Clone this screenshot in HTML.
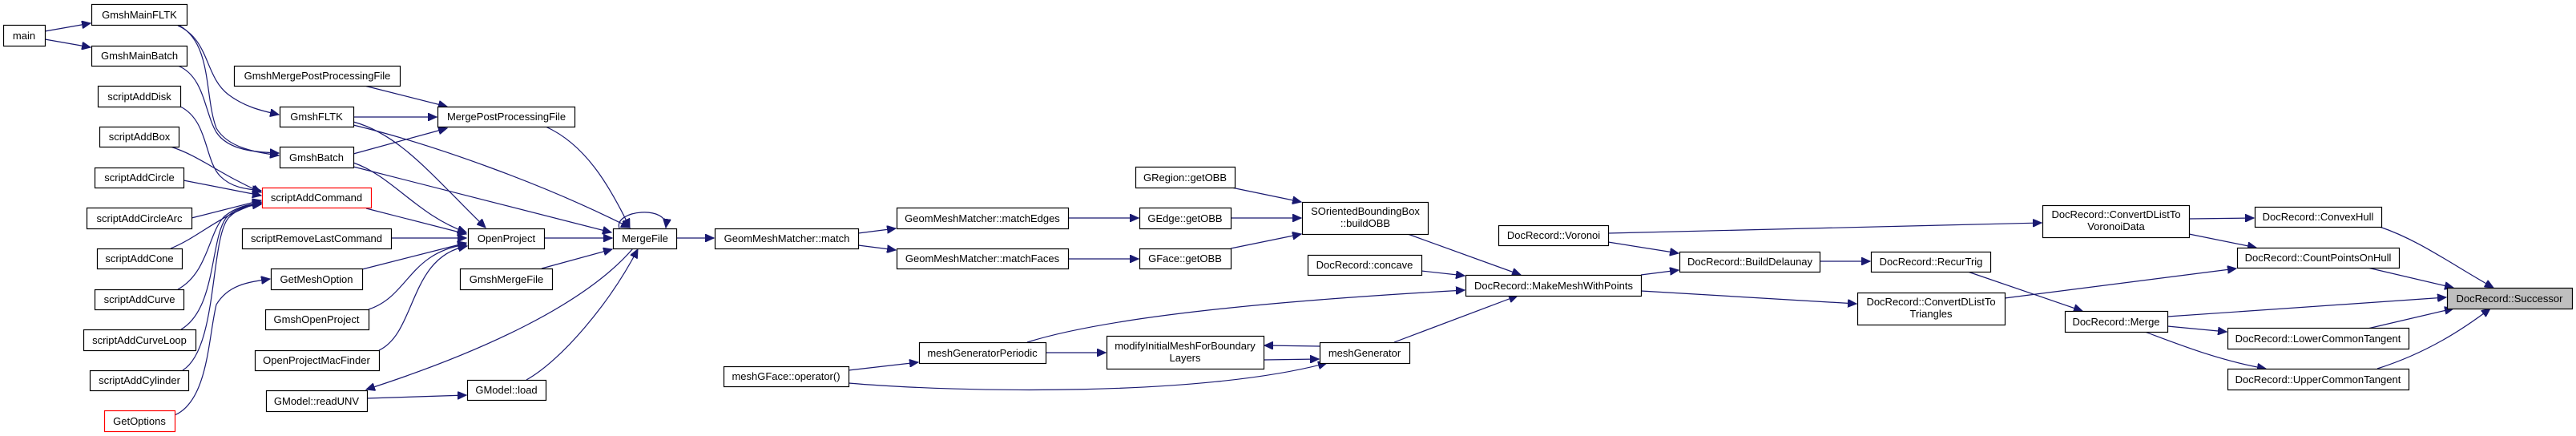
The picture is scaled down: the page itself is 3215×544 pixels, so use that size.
<!DOCTYPE html>
<html><head><meta charset="utf-8"><style>
html,body{margin:0;padding:0;background:#fff;width:3215px;height:544px;overflow:hidden}
svg{display:block}
text{font-family:"Liberation Sans",Arial,sans-serif;font-size:13px;fill:#000}
.n{fill:#fff;stroke:#000;stroke-width:1.2}
.r{fill:#fff;stroke:#ff0000;stroke-width:1.2}
.e{fill:none;stroke:#191970;stroke-width:1.2;marker-end:url(#a)}
</style></head><body>
<svg width="3215" height="544" viewBox="0 0 3215 544" xmlns="http://www.w3.org/2000/svg">
<defs><marker id="a" markerUnits="userSpaceOnUse" markerWidth="12" markerHeight="10" refX="11" refY="5" orient="auto"><path d="M0,0 L11,5 L0,10 z" fill="#191970" stroke="#191970"/></marker></defs>

<!-- edges -->
<path class="e" d="M56,39 L113,29"/>
<path class="e" d="M56,49 L113,59"/>
<path class="e" d="M222,32 C262,50 255,95 285,118 C305,133 325,138 348,143"/>
<path class="e" d="M224,32 C265,55 255,120 270,160 C285,185 320,190 348,194"/>
<path class="e" d="M222,82 C255,95 255,140 270,165 C285,188 320,190 348,191"/>
<path class="e" d="M225,133 C260,150 255,200 275,220 C290,235 310,236 326,238"/>
<path class="e" d="M213,183 C250,195 270,215 326,240"/>
<path class="e" d="M229,225 L326,244"/>
<path class="e" d="M239,272 L326,250"/>
<path class="e" d="M213,310 C250,295 270,270 326,252"/>
<path class="e" d="M222,361 C260,340 260,290 280,270 C295,258 310,255 326,253"/>
<path class="e" d="M226,411 C270,385 262,300 282,272 C295,258 315,255 326,254"/>
<path class="e" d="M228,462 C272,435 262,300 285,272 C298,258 315,256 326,255"/>
<path class="e" d="M218,518 C260,500 260,420 270,380 C285,355 310,352 337,348"/>
<path class="e" d="M455,107 L558,133"/>
<path class="e" d="M441,146 L545,146"/>
<path class="e" d="M441,192 L558,160"/>
<path class="e" d="M441,152 C500,168 540,220 606,284"/>
<path class="e" d="M441,203 C490,220 520,268 582,290"/>
<path class="e" d="M441,156 C540,180 680,230 786,284"/>
<path class="e" d="M441,208 L763,290"/>
<path class="e" d="M457,260 L582,292"/>
<path class="e" d="M488,297 L582,297"/>
<path class="e" d="M452,336 L582,303"/>
<path class="e" d="M460,386 C510,370 510,315 582,305"/>
<path class="e" d="M473,437 C520,415 510,320 583,307"/>
<path class="e" d="M790,310 C730,380 600,440 457,486"/>
<path class="e" d="M458,497 L582,493"/>
<path class="e" d="M657,474 C700,450 760,380 796,311"/>
<path class="e" d="M681,158 C730,180 760,230 786,284"/>
<path class="e" d="M679,297 L764,297"/>
<path class="e" d="M676,335 L764,311"/>
<path class="e" d="M773,285 C765,262 835,255 831,284"/>
<path class="e" d="M844,297 L891,297"/>
<path class="e" d="M1071,291 L1118,285"/>
<path class="e" d="M1071,306 L1118,312"/>
<path class="e" d="M1333,272 L1421,272"/>
<path class="e" d="M1333,323 L1421,323"/>
<path class="e" d="M1537,234 L1624,252"/>
<path class="e" d="M1536,272 L1624,272"/>
<path class="e" d="M1536,310 L1624,292"/>
<path class="e" d="M1757,292 L1898,343"/>
<path class="e" d="M1774,338 L1828,344"/>
<path class="e" d="M1282,427 C1400,390 1650,372 1828,362"/>
<path class="e" d="M1740,427 L1894,369"/>
<path class="e" d="M1059,462 L1146,452"/>
<path class="e" d="M1059,478 C1200,490 1500,495 1656,453"/>
<path class="e" d="M1305,440 L1380,440"/>
<path class="e" d="M1647,432 L1578,431"/>
<path class="e" d="M1577,449 L1646,448"/>
<path class="e" d="M2007,302 L2095,316"/>
<path class="e" d="M2007,291 L2548,278"/>
<path class="e" d="M2048,343 L2095,337"/>
<path class="e" d="M2048,363 L2317,379"/>
<path class="e" d="M2271,326 L2334,326"/>
<path class="e" d="M2456,339 L2599,388"/>
<path class="e" d="M2502,372 L2791,335"/>
<path class="e" d="M2732,273 L2813,272"/>
<path class="e" d="M2732,292 L2816,309"/>
<path class="e" d="M2970,283 C3020,300 3060,330 3112,359"/>
<path class="e" d="M2955,334 L3062,359"/>
<path class="e" d="M2705,395 L3053,371"/>
<path class="e" d="M2705,407 L2779,414"/>
<path class="e" d="M2677,414 C2720,430 2770,450 2828,460"/>
<path class="e" d="M2955,410 L3062,385"/>
<path class="e" d="M2967,460 C3030,440 3075,410 3108,385"/>

<!-- nodes -->
<g>
<rect class="n" x="4.5" y="31.5" width="52" height="26"/><text x="30" y="49" text-anchor="middle">main</text>
<rect class="n" x="114.5" y="5.5" width="119" height="26"/><text x="174" y="23" text-anchor="middle">GmshMainFLTK</text>
<rect class="n" x="114.5" y="57.5" width="119" height="25"/><text x="174" y="74" text-anchor="middle">GmshMainBatch</text>
<rect class="n" x="122.5" y="107.5" width="103" height="26"/><text x="174" y="125" text-anchor="middle">scriptAddDisk</text>
<rect class="n" x="124.5" y="158.5" width="99" height="25"/><text x="174" y="175" text-anchor="middle">scriptAddBox</text>
<rect class="n" x="118.5" y="209.5" width="111" height="25"/><text x="174" y="226" text-anchor="middle">scriptAddCircle</text>
<rect class="n" x="108.5" y="259.5" width="131" height="26"/><text x="174" y="277" text-anchor="middle">scriptAddCircleArc</text>
<rect class="n" x="121.5" y="310.5" width="106" height="25"/><text x="174" y="327" text-anchor="middle">scriptAddCone</text>
<rect class="n" x="118.5" y="361.5" width="111" height="25"/><text x="174" y="378" text-anchor="middle">scriptAddCurve</text>
<rect class="n" x="104.5" y="411.5" width="140" height="26"/><text x="174" y="429" text-anchor="middle">scriptAddCurveLoop</text>
<rect class="n" x="112.5" y="462.5" width="123" height="25"/><text x="174" y="479" text-anchor="middle">scriptAddCylinder</text>
<rect class="r" x="130.5" y="512.5" width="88" height="26"/><text x="174" y="530" text-anchor="middle">GetOptions</text>

<rect class="n" x="292.5" y="82.5" width="207" height="25"/><text x="396" y="99" text-anchor="middle">GmshMergePostProcessingFile</text>
<rect class="n" x="349.5" y="133.5" width="92" height="25"/><text x="395" y="150" text-anchor="middle">GmshFLTK</text>
<rect class="n" x="349.5" y="183.5" width="92" height="26"/><text x="395" y="201" text-anchor="middle">GmshBatch</text>
<rect class="r" x="327.5" y="234.5" width="136" height="25"/><text x="395" y="251" text-anchor="middle">scriptAddCommand</text>
<rect class="n" x="302.5" y="285.5" width="186" height="25"/><text x="395" y="302" text-anchor="middle">scriptRemoveLastCommand</text>
<rect class="n" x="338.5" y="335.5" width="114" height="26"/><text x="395" y="353" text-anchor="middle">GetMeshOption</text>
<rect class="n" x="331.5" y="386.5" width="129" height="25"/><text x="395" y="403" text-anchor="middle">GmshOpenProject</text>
<rect class="n" x="318.5" y="437.5" width="155" height="25"/><text x="395" y="454" text-anchor="middle">OpenProjectMacFinder</text>
<rect class="n" x="332.5" y="487.5" width="126" height="26"/><text x="395" y="505" text-anchor="middle">GModel::readUNV</text>

<rect class="n" x="546.5" y="133.5" width="171" height="25"/><text x="632" y="150" text-anchor="middle">MergePostProcessingFile</text>
<rect class="n" x="584.5" y="285.5" width="95" height="25"/><text x="632" y="302" text-anchor="middle">OpenProject</text>
<rect class="n" x="574.5" y="335.5" width="115" height="26"/><text x="632" y="353" text-anchor="middle">GmshMergeFile</text>
<rect class="n" x="583.5" y="474.5" width="98" height="25"/><text x="632" y="491" text-anchor="middle">GModel::load</text>
<rect class="n" x="765.5" y="285.5" width="79" height="25"/><text x="805" y="302" text-anchor="middle">MergeFile</text>
<rect class="n" x="892.5" y="285.5" width="179" height="25"/><text x="982" y="302" text-anchor="middle">GeomMeshMatcher::match</text>
<rect class="n" x="903.5" y="457.5" width="156" height="25"/><text x="981" y="474" text-anchor="middle">meshGFace::operator()</text>

<rect class="n" x="1119.5" y="259.5" width="214" height="26"/><text x="1226" y="277" text-anchor="middle">GeomMeshMatcher::matchEdges</text>
<rect class="n" x="1119.5" y="310.5" width="214" height="25"/><text x="1226" y="327" text-anchor="middle">GeomMeshMatcher::matchFaces</text>
<rect class="n" x="1417.5" y="208.5" width="124" height="26"/><text x="1479" y="226" text-anchor="middle">GRegion::getOBB</text>
<rect class="n" x="1422.5" y="259.5" width="114" height="26"/><text x="1479" y="277" text-anchor="middle">GEdge::getOBB</text>
<rect class="n" x="1422.5" y="310.5" width="114" height="25"/><text x="1479" y="327" text-anchor="middle">GFace::getOBB</text>
<rect class="n" x="1625.5" y="252.5" width="157" height="40"/><text x="1704" y="268" text-anchor="middle">SOrientedBoundingBox</text><text x="1704" y="283" text-anchor="middle">::buildOBB</text>
<rect class="n" x="1632.5" y="318.5" width="142" height="25"/><text x="1703" y="335" text-anchor="middle">DocRecord::concave</text>
<rect class="n" x="1147.5" y="427.5" width="158" height="26"/><text x="1226" y="445" text-anchor="middle">meshGeneratorPeriodic</text>
<rect class="n" x="1381.5" y="419.5" width="196" height="41"/><text x="1479" y="436" text-anchor="middle">modifyInitialMeshForBoundary</text><text x="1479" y="451" text-anchor="middle">Layers</text>
<rect class="n" x="1647.5" y="427.5" width="112" height="26"/><text x="1703" y="445" text-anchor="middle">meshGenerator</text>

<rect class="n" x="1870.5" y="281.5" width="137" height="25"/><text x="1939" y="298" text-anchor="middle">DocRecord::Voronoi</text>
<rect class="n" x="1829.5" y="343.5" width="219" height="26"/><text x="1939" y="361" text-anchor="middle">DocRecord::MakeMeshWithPoints</text>
<rect class="n" x="2096.5" y="314.5" width="175" height="25"/><text x="2184" y="331" text-anchor="middle">DocRecord::BuildDelaunay</text>
<rect class="n" x="2335.5" y="314.5" width="149" height="25"/><text x="2410" y="331" text-anchor="middle">DocRecord::RecurTrig</text>
<rect class="n" x="2318.5" y="365.5" width="184" height="40"/><text x="2410" y="381" text-anchor="middle">DocRecord::ConvertDListTo</text><text x="2410" y="396" text-anchor="middle">Triangles</text>
<rect class="n" x="2549.5" y="256.5" width="183" height="40"/><text x="2641" y="272" text-anchor="middle">DocRecord::ConvertDListTo</text><text x="2641" y="287" text-anchor="middle">VoronoiData</text>
<rect class="n" x="2577.5" y="388.5" width="128" height="26"/><text x="2641" y="406" text-anchor="middle">DocRecord::Merge</text>
<rect class="n" x="2814.5" y="258.5" width="158" height="25"/><text x="2893" y="275" text-anchor="middle">DocRecord::ConvexHull</text>
<rect class="n" x="2792.5" y="309.5" width="202" height="25"/><text x="2893" y="326" text-anchor="middle">DocRecord::CountPointsOnHull</text>
<rect class="n" x="2780.5" y="409.5" width="226" height="26"/><text x="2893" y="427" text-anchor="middle">DocRecord::LowerCommonTangent</text>
<rect class="n" x="2780.5" y="460.5" width="226" height="26"/><text x="2893" y="478" text-anchor="middle">DocRecord::UpperCommonTangent</text>
<rect x="3054.5" y="359.5" width="156" height="26" fill="#bfbfbf" stroke="#000" stroke-width="1.2"/><text x="3132" y="377" text-anchor="middle">DocRecord::Successor</text>
</g>
</svg>
</body></html>
